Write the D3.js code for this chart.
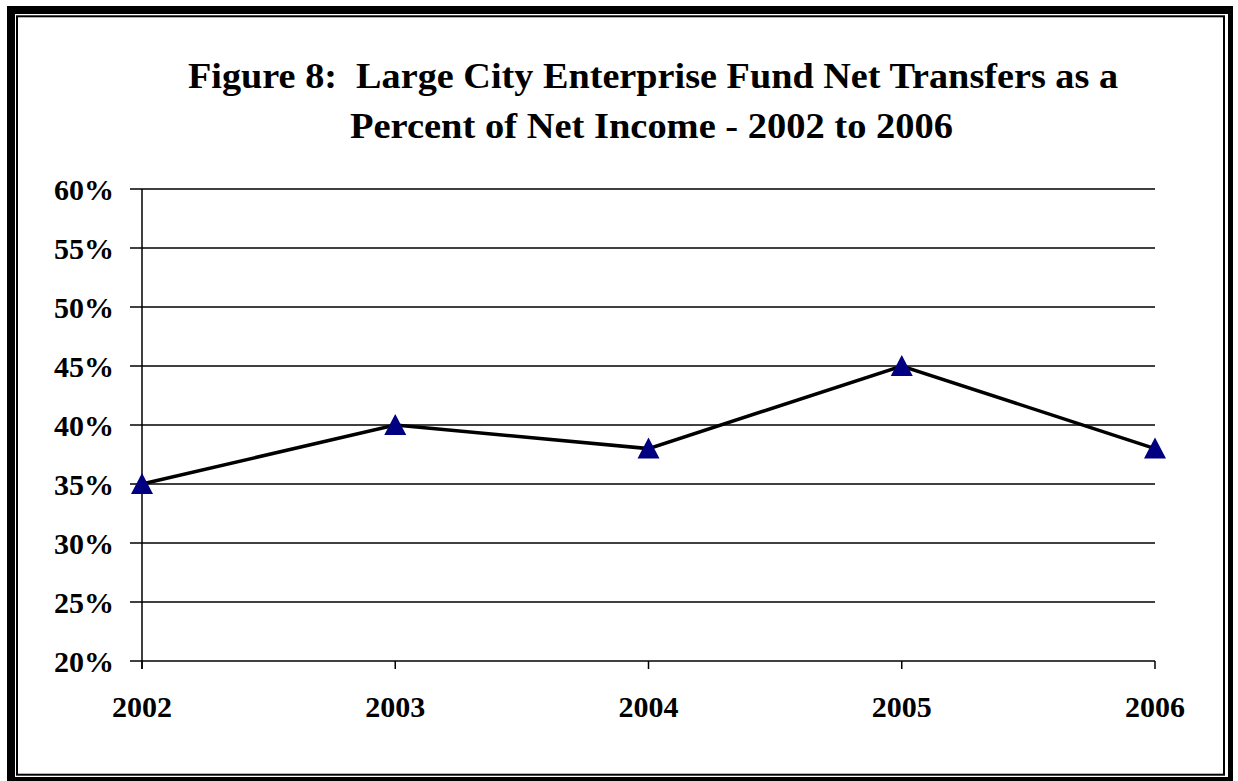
<!DOCTYPE html>
<html><head><meta charset="utf-8">
<script src="https://cdn.jsdelivr.net/npm/d3@7"></script>
<style>body{margin:0;background:#fff}svg{display:block}</style>
</head><body>
<script>
const years = ["2002","2003","2004","2005","2006"];
const values = [35, 40, 38, 45, 38];
const yTicks = [20,25,30,35,40,45,50,55,60];
const titleLines = ["Figure 8:\u00a0 Large City Enterprise Fund Net Transfers as a","Percent of Net Income - 2002 to 2006"];

const W=1238,H=781;
const svg=d3.select("body").append("svg").attr("width",W).attr("height",H);
const font="'Liberation Serif','Times New Roman',serif";

// border
svg.append("rect").attr("x",7).attr("y",6).attr("width",1226).attr("height",775).attr("fill","#000");
svg.append("rect").attr("x",15).attr("y",14).attr("width",1213).attr("height",763).attr("fill","#fff");
svg.append("rect").attr("x",17).attr("y",16.3).attr("width",1207).attr("height",758.4)
  .attr("fill","none").attr("stroke","#000").attr("stroke-width",2);

const x=d3.scalePoint().domain(years).range([142,1155]);
const y=d3.scaleLinear().domain([20,60]).range([661,189]);

// title
const titleSpec=[{x:188,w:930,y:88},{x:350,w:603,y:138}];
svg.append("g").selectAll("text").data(titleLines).join("text")
  .attr("x",(d,i)=>titleSpec[i].x).attr("y",(d,i)=>titleSpec[i].y)
  .attr("textLength",(d,i)=>titleSpec[i].w).attr("lengthAdjust","spacingAndGlyphs")
  .attr("font-family",font).attr("font-weight","bold").attr("font-size",35).text(d=>d);

// gridlines
svg.append("g").selectAll("line").data(yTicks).join("line")
  .attr("x1",130).attr("x2",1155).attr("y1",d=>y(d)).attr("y2",d=>y(d))
  .attr("stroke","#000").attr("stroke-width",1.5);

// y axis line
svg.append("line").attr("x1",142).attr("x2",142).attr("y1",189).attr("y2",669)
  .attr("stroke","#000").attr("stroke-width",1.5);
// x ticks
svg.append("g").selectAll("line").data(years).join("line")
  .attr("x1",d=>x(d)).attr("x2",d=>x(d)).attr("y1",661).attr("y2",669)
  .attr("stroke","#000").attr("stroke-width",1.5);

// y labels
svg.append("g").selectAll("text").data(yTicks).join("text")
  .attr("x",114).attr("y",d=>y(d)+11).attr("text-anchor","end")
  .attr("font-family",font).attr("font-weight","bold").attr("font-size",30).text(d=>d+"%");
// x labels
svg.append("g").selectAll("text").data(years).join("text")
  .attr("x",d=>x(d)).attr("y",717).attr("text-anchor","middle")
  .attr("font-family",font).attr("font-weight","bold").attr("font-size",30).text(d=>d);

// line
const data=years.map((d,i)=>({year:d,v:values[i]}));
svg.append("path").datum(data)
  .attr("d",d3.line().x(d=>x(d.year)).y(d=>y(d.v)))
  .attr("fill","none").attr("stroke","#000").attr("stroke-width",3.5);

// markers
svg.append("g").selectAll("path").data(data).join("path")
  .attr("transform",d=>`translate(${x(d.year)},${y(d.v)})`)
  .attr("d","M0,-11L11,10L-11,10Z").attr("fill","#000080");
</script>
</body></html>
